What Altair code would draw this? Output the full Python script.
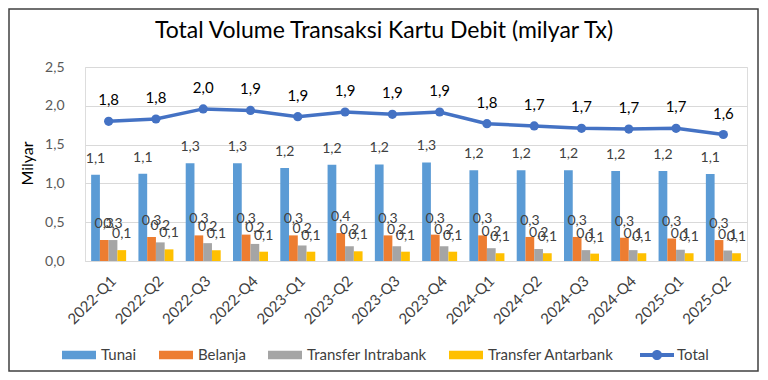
import altair as alt
import pandas as pd

quarters = ["2022-Q1", "2022-Q2", "2022-Q3", "2022-Q4", "2023-Q1", "2023-Q2", "2023-Q3",
            "2023-Q4", "2024-Q1", "2024-Q2", "2024-Q3", "2024-Q4", "2025-Q1", "2025-Q2"]
tunai = [1.11, 1.125, 1.26, 1.26, 1.20, 1.24, 1.245, 1.27, 1.17, 1.17, 1.17, 1.16, 1.16, 1.12]
belanja = [0.27, 0.31, 0.33, 0.34, 0.33, 0.36, 0.33, 0.34, 0.33, 0.31, 0.31, 0.30, 0.29, 0.27]
intrabank = [0.27, 0.24, 0.23, 0.22, 0.20, 0.19, 0.19, 0.19, 0.165, 0.155, 0.14, 0.14, 0.145, 0.135]
antarbank = [0.14, 0.15, 0.14, 0.12, 0.12, 0.125, 0.12, 0.12, 0.10, 0.10, 0.095, 0.10, 0.10, 0.10]
total = [1.80, 1.83, 1.96, 1.94, 1.86, 1.92, 1.89, 1.92, 1.77, 1.74, 1.71, 1.70, 1.71, 1.63]
y_ticks = [0, 0.5, 1.0, 1.5, 2.0, 2.5]

series_names = ["Tunai", "Belanja", "Transfer Intrabank", "Transfer Antarbank"]
series_colors = ["#5B9BD5", "#ED7D31", "#A5A5A5", "#FFC000"]
total_name = "Total"
total_color = "#4472C4"

rows = []
for name, vals in zip(series_names, [tunai, belanja, intrabank, antarbank]):
    for q, v in zip(quarters, vals):
        rows.append({"quarter": q, "series": name, "value": v})
bars_df = pd.DataFrame(rows)
total_df = pd.DataFrame({"quarter": quarters, "series": total_name, "value": total})

FONT = "Lato"
W, H = 662, 194
fmt = "replace(format(datum.value, '.1f'), '.', ',')"

X = alt.X("quarter:N", sort=quarters, title=None,
          scale=alt.Scale(paddingInner=0.26, paddingOuter=0.13),
          axis=alt.Axis(labelAngle=-45, labelFont=FONT, labelFontSize=15, labelColor="#404040",
                        labelPadding=12, ticks=False, domain=True, domainColor="#D9D9D9",
                        grid=False))
Y = alt.Y("value:Q", title="Milyar",
          scale=alt.Scale(domain=[0, 2.5], nice=False),
          axis=alt.Axis(values=y_ticks, labelExpr=fmt, labelOverlap=False, tickCount=6,
                        labelFont=FONT, labelFontSize=14, labelColor="#595959", labelPadding=21,
                        domain=False, ticks=False, grid=True, gridColor="#D9D9D9",
                        titleFont=FONT, titleFontSize=16, titleFontWeight="normal", titleColor="#000000",
                        titleAngle=-90, titleX=-50, titleY=96, titleAlign="center", titleBaseline="bottom"))

bar_sym = "M-1,-0.25H1V0.25H-1Z"
line_sym = "M-1,-0.12H1V0.12H-1Z M0.3,0A0.3,0.3,0,1,1,-0.3,0A0.3,0.3,0,1,1,0.3,0Z"
XO = alt.XOffset("series:N", sort=series_names, scale=alt.Scale(paddingInner=0, paddingOuter=0))

bars = alt.Chart(bars_df).mark_bar().encode(
    x=X, xOffset=XO, y=Y,
    color=alt.Color("series:N", sort=series_names,
                    scale=alt.Scale(domain=series_names, range=series_colors),
                    legend=alt.Legend(title=None, orient="none", direction="horizontal",
                                      legendX=-23, legendY=271, symbolType=bar_sym, symbolSize=1156,
                                      symbolStrokeWidth=0, labelFont=FONT, labelFontSize=15,
                                      labelColor="#404040", labelOffset=5, columnPadding=22)),
)

bar_labels = alt.Chart(bars_df).transform_calculate(lbl=fmt).mark_text(
    font=FONT, fontSize=14, color="#404040", baseline="middle", dy=-16
).encode(x=X, xOffset=XO, y=Y, text="lbl:N")

line = alt.Chart(total_df).mark_line(color=total_color, strokeWidth=3.5).encode(x=X, y=Y)

points = alt.Chart(total_df).mark_circle(size=85, opacity=1).encode(
    x=X, y=Y,
    color=alt.Color("series:N", scale=alt.Scale(domain=[total_name], range=[total_color]),
                    legend=alt.Legend(title=None, orient="none", direction="horizontal",
                                      legendX=555, legendY=271, symbolType=line_sym, symbolSize=1156,
                                      symbolStrokeWidth=0, symbolFillColor=total_color,
                                      labelFont=FONT, labelFontSize=15, labelColor="#404040",
                                      labelOffset=3)),
)

total_labels = alt.Chart(total_df).transform_calculate(lbl=fmt).mark_text(
    font=FONT, fontSize=15, color="#000000", baseline="middle", dy=-21
).encode(x=X, y=Y, text="lbl:N")

frame = alt.Chart(pd.DataFrame({"k": [0]})).mark_rect(
    fillOpacity=0, stroke="#404040", strokeWidth=1.5
).encode(x=alt.value(-76), x2=alt.value(673), y=alt.value(-58), y2=alt.value(304))

chart = alt.layer(bars, bar_labels, line, points, total_labels, frame).resolve_scale(
    color="independent"
).properties(
    width=W, height=H,
    title=alt.TitleParams("Total Volume Transaksi Kartu Debit (milyar Tx)", font=FONT, fontSize=23,
                          fontWeight="normal", color="#000000", anchor="middle", offset=0, dy=35,
                          dx=-32),
    padding={"left": 77, "top": 59, "right": 13, "bottom": 111},
    autosize=alt.AutoSizeParams(type="none"),
).configure_view(stroke=None).configure(background="white")

chart.save("out.html", embed_options={"renderer": "svg", "actions": False})
